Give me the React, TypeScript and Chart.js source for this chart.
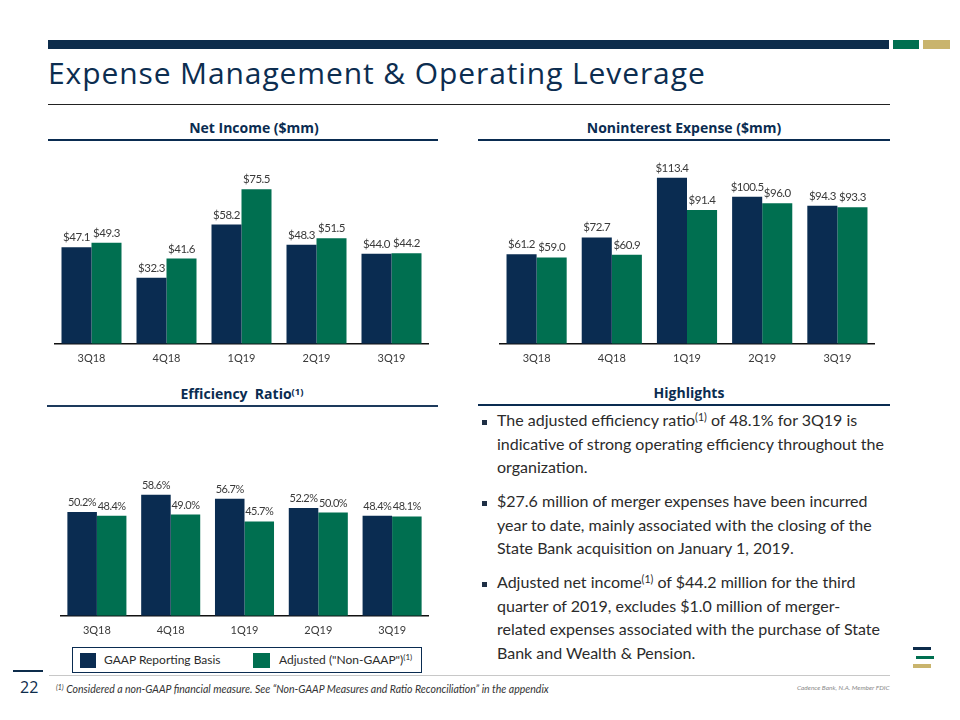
import React, { useEffect, useRef } from "react";
import { Chart, registerables } from "chart.js";

Chart.register(...registerables);

// ---------- data ----------
const quarters = ["3Q18", "4Q18", "1Q19", "2Q19", "3Q19"];
const seriesNames = ["GAAP Reporting Basis", 'Adjusted ("Non-GAAP")'];
const netIncomeGaap = [47.1, 32.3, 58.2, 48.3, 44.0];
const netIncomeAdj = [49.3, 41.6, 75.5, 51.5, 44.2];
const nonintExpGaap = [61.2, 72.7, 113.4, 100.5, 94.3];
const nonintExpAdj = [59.0, 60.9, 91.4, 96.0, 93.3];
const effRatioGaap = [50.2, 58.6, 56.7, 52.2, 48.4];
const effRatioAdj = [48.4, 49.0, 45.7, 50.0, 48.1];

const NAVY = "#0a2c51";
const GREEN = "#006f50";
const GOLD = "#c9b46d";
const TEXT = "#2b2b2b";
const BODY_FONT = "Lato, 'Open Sans', sans-serif";
const HEAD_FONT = "'Open Sans', 'Noto Sans', sans-serif";

type ChartProps = {
  left: number;
  top: number;
  width: number;
  height: number;
  gaap: number[];
  adj: number[];
  max: number;
  labelSize: number;
  fmt: (v: number) => string;
};

function BarChart({ left, top, width, height, gaap, adj, max, labelSize, fmt }: ChartProps) {
  const ref = useRef<HTMLCanvasElement>(null);
  useEffect(() => {
    if (!ref.current) return;
    const labelPlugin = {
      id: "valueLabels",
      afterDatasetsDraw(chart: any) {
        const ctx = chart.ctx;
        ctx.save();
        ctx.font = labelSize + "px " + BODY_FONT;
        try {
          (ctx as any).letterSpacing = "-0.5px";
        } catch (e) {}
        ctx.fillStyle = "#3a3a3a";
        ctx.textAlign = "center";
        ctx.textBaseline = "alphabetic";
        chart.data.datasets.forEach((ds: any, i: number) => {
          const meta = chart.getDatasetMeta(i);
          meta.data.forEach((el: any, j: number) => {
            ctx.fillText(fmt(ds.data[j]), el.x, el.y - 6);
          });
        });
        ctx.restore();
      },
    };
    const chart = new Chart(ref.current, {
      type: "bar",
      data: {
        labels: quarters,
        datasets: [
          { label: seriesNames[0], data: gaap, backgroundColor: NAVY },
          { label: seriesNames[1], data: adj, backgroundColor: GREEN },
        ],
      },
      options: {
        responsive: false,
        animation: false,
        layout: { padding: 0 },
        plugins: { legend: { display: false }, tooltip: { enabled: false } },
        datasets: { bar: { categoryPercentage: 0.8, barPercentage: 1.0 } },
        scales: {
          x: {
            grid: { display: false, drawTicks: false },
            border: { display: true, color: "#111111", width: 1.5 },
            ticks: { color: "#3a3a3a", font: { family: BODY_FONT, size: 11 }, padding: 8 },
          },
          y: { display: false, min: 0, max },
        },
      },
      plugins: [labelPlugin],
    } as any);
    return () => chart.destroy();
  }, []);
  return (
    <canvas
      ref={ref}
      width={width}
      height={height}
      style={{ position: "absolute", left, top, width, height }}
    />
  );
}

const abs = (s: React.CSSProperties): React.CSSProperties => ({ position: "absolute", ...s });

function Header({ cx, cy, children }: { cx: number; cy: number; children: React.ReactNode }) {
  return (
    <div
      style={abs({
        left: cx - 200,
        top: cy - 11,
        width: 400,
        height: 22,
        lineHeight: "22px",
        textAlign: "center",
        fontFamily: HEAD_FONT,
        fontWeight: 700,
        fontSize: 14,
        color: NAVY,
        whiteSpace: "nowrap",
      })}
    >
      {children}
    </div>
  );
}

const Sup = ({ size = 9, lift = 5 }: { size?: number; lift?: number }) => (
  <span style={{ fontSize: size, lineHeight: 0, position: "relative", top: -lift }}>(1)</span>
);

const para1 = [
  <>The adjusted efficiency ratio<Sup size={10.5} lift={5} /> of 48.1% for 3Q19 is</>,
  <>indicative of strong operating efficiency throughout the</>,
  <>organization.</>,
];
const para2 = [
  <>$27.6 million of merger expenses have been incurred</>,
  <>year to date, mainly associated with the closing of the</>,
  <>State Bank acquisition on January 1, 2019.</>,
];
const para3 = [
  <>Adjusted net income<Sup size={10.5} lift={5} /> of $44.2 million for the third</>,
  <>quarter of 2019, excludes $1.0 million of merger-</>,
  <>related expenses associated with the purchase of State</>,
  <>Bank and Wealth &amp; Pension.</>,
];

function Bullet({ top, lines }: { top: number; lines: React.ReactNode[] }) {
  return (
    <>
      <div style={abs({ left: 482, top: top + 9.5, width: 5, height: 5, background: "#1f2f45" })} />
      {lines.map((l, i) => (
        <div
          key={i}
          style={abs({
            left: 497,
            top: top + i * 23.5 - 2,
            height: 24,
            lineHeight: "24px",
            fontFamily: BODY_FONT,
            fontSize: 16,
            color: TEXT,
            whiteSpace: "nowrap",
          })}
        >
          {l}
        </div>
      ))}
    </>
  );
}

export default function App() {
  return (
    <div
      style={abs({
        left: 0,
        top: 0,
        width: 960,
        height: 720,
        background: "#ffffff",
        overflow: "hidden",
      })}
    >
      {/* top bars */}
      <div style={abs({ left: 48, top: 39.5, width: 841, height: 9, background: "#0d2c4b" })} />
      <div style={abs({ left: 893, top: 39.5, width: 26, height: 9, background: GREEN })} />
      <div style={abs({ left: 923, top: 39.5, width: 27, height: 9, background: GOLD })} />

      {/* title */}
      <div
        style={abs({
          left: 48,
          top: 53,
          height: 40,
          lineHeight: "40px",
          fontFamily: HEAD_FONT,
          fontSize: 30,
          letterSpacing: 0.9,
          color: "#0c2d50",
          whiteSpace: "nowrap",
        })}
      >
        Expense Management &amp; Operating Leverage
      </div>
      <div style={abs({ left: 48, top: 103.5, width: 842, height: 1, background: "#222222" })} />

      {/* section headers */}
      <Header cx={254} cy={128}>Net Income ($mm)</Header>
      <div style={abs({ left: 48, top: 139, width: 390, height: 2, background: NAVY })} />
      <Header cx={684} cy={128}>Noninterest Expense ($mm)</Header>
      <div style={abs({ left: 478, top: 139, width: 412, height: 2, background: NAVY })} />
      <Header cx={242} cy={394}>
        Efficiency&nbsp; Ratio<Sup size={9.5} lift={4} />
      </Header>
      <div style={abs({ left: 47, top: 405, width: 391, height: 2, background: "#1d3a5c" })} />
      <Header cx={689} cy={393}>Highlights</Header>
      <div style={abs({ left: 478, top: 404, width: 412, height: 2, background: NAVY })} />

      {/* charts */}
      <BarChart left={54} top={150} width={375} height={223} gaap={netIncomeGaap} adj={netIncomeAdj} max={94.6} labelSize={11.5} fmt={(v) => "$" + v.toFixed(1)} />
      <BarChart left={499} top={150} width={376} height={223} gaap={nonintExpGaap} adj={nonintExpAdj} max={132.4} labelSize={11.5} fmt={(v) => "$" + v.toFixed(1)} />
      <BarChart left={60} top={440} width={369} height={205} gaap={effRatioGaap} adj={effRatioAdj} max={85.1} labelSize={11} fmt={(v) => v.toFixed(1) + "%"} />

      {/* legend */}
      <div
        style={abs({
          left: 72,
          top: 646.5,
          width: 348,
          height: 24,
          border: "1.5px solid " + NAVY,
          background: "#fff",
        })}
      />
      <div style={abs({ left: 80, top: 652.5, width: 16, height: 15, background: NAVY })} />
      <div style={abs({ left: 104, top: 650, lineHeight: "20px", fontFamily: BODY_FONT, fontSize: 12, color: TEXT, whiteSpace: "nowrap" })}>
        {seriesNames[0]}
      </div>
      <div style={abs({ left: 253, top: 652.5, width: 17, height: 15, background: GREEN })} />
      <div style={abs({ left: 279, top: 650, lineHeight: "20px", fontFamily: BODY_FONT, fontSize: 12, color: TEXT, whiteSpace: "nowrap" })}>
        {seriesNames[1]}
        <Sup size={8} lift={4} />
      </div>

      {/* highlights */}
      <Bullet top={410} lines={para1} />
      <Bullet top={491} lines={para2} />
      <Bullet top={572} lines={para3} />

      {/* logo */}
      <div style={abs({ left: 913, top: 646.5, width: 17.5, height: 3.5, background: "#0d2c4b" })} />
      <div style={abs({ left: 916, top: 655.5, width: 17.5, height: 3.5, background: GREEN })} />
      <div style={abs({ left: 913, top: 664, width: 17.5, height: 3.5, background: GOLD })} />

      {/* footer */}
      <div style={abs({ left: 13, top: 669.5, width: 30, height: 2.5, background: "#0d2c4b" })} />
      <div style={abs({ left: 49, top: 675, width: 841, height: 1, background: "#c8c8c8" })} />
      <div style={abs({ left: 20, top: 677, lineHeight: "20px", fontFamily: HEAD_FONT, fontSize: 16, color: "#0d2c4b" })}>22</div>
      <div
        style={abs({
          left: 56,
          top: 681,
          lineHeight: "16px",
          fontFamily: BODY_FONT,
          fontStyle: "italic",
          fontSize: 10.5,
          color: "#333333",
          whiteSpace: "nowrap",
        })}
      >
        <span style={{ fontSize: 7, lineHeight: 0, position: "relative", top: -3 }}>(1)</span> Considered a non-GAAP
        financial measure. See “Non-GAAP Measures and Ratio Reconciliation” in the appendix
      </div>
      <div
        style={abs({
          left: 797,
          top: 683,
          lineHeight: "10px",
          fontFamily: BODY_FONT,
          fontStyle: "italic",
          fontSize: 6.5,
          color: "#8a8a8a",
          whiteSpace: "nowrap",
        })}
      >
        Cadence Bank, N.A. Member FDIC
      </div>
    </div>
  );
}
